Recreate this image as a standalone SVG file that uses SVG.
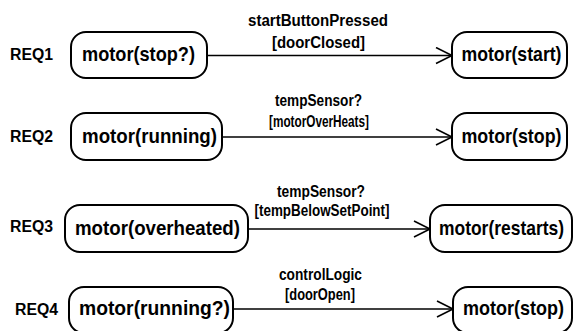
<svg xmlns="http://www.w3.org/2000/svg" width="574" height="331" viewBox="0 0 574 331">
  <style>
    .state rect { fill: #ffffff; stroke: #000000; stroke-width: 2; }
    .state text { font-family: "Liberation Sans", Arial, sans-serif; font-weight: bold; font-size: 21px; text-anchor: middle; fill: #000; }
    .req { font-family: "Liberation Sans", Arial, sans-serif; font-weight: bold; font-size: 16px; fill: #000; }
    .lbl { font-family: "Liberation Sans", Arial, sans-serif; font-weight: bold; font-size: 16px; text-anchor: middle; fill: #000; }
    .edge { fill: none; stroke: #000; stroke-width: 1.6; }
  </style>
  <defs>
    <marker id="open" markerWidth="20" markerHeight="20" refX="17" refY="9" orient="auto" markerUnits="userSpaceOnUse">
      <path d="M1,1 L17,9 L1,17" fill="none" stroke="#000" stroke-width="1.6"/>
    </marker>
  </defs>

  <rect width="574" height="331" fill="#ffffff"/>

  <!-- requirement tags -->
  <text class="req" x="10" y="60" textLength="43" lengthAdjust="spacingAndGlyphs">REQ1</text>
  <text class="req" x="10" y="142" textLength="43" lengthAdjust="spacingAndGlyphs">REQ2</text>
  <text class="req" x="10" y="232" textLength="43" lengthAdjust="spacingAndGlyphs">REQ3</text>
  <text class="req" x="15" y="315" textLength="43" lengthAdjust="spacingAndGlyphs">REQ4</text>

  <!-- transitions -->
  <g id="connectors">
    <line class="edge" x1="207" y1="55.5" x2="452" y2="55.5" marker-end="url(#open)"/>
    <line class="edge" x1="222" y1="137" x2="452" y2="137" marker-end="url(#open)"/>
    <line class="edge" x1="248" y1="229" x2="430" y2="229" marker-end="url(#open)"/>
    <line class="edge" x1="233" y1="309" x2="453" y2="309" marker-end="url(#open)"/>
    <text class="lbl" x="318" y="26" textLength="140" lengthAdjust="spacingAndGlyphs">startButtonPressed</text>
    <text class="lbl" x="318.5" y="48" textLength="93" lengthAdjust="spacingAndGlyphs">[doorClosed]</text>
    <text class="lbl" x="318.5" y="106" textLength="87" lengthAdjust="spacingAndGlyphs">tempSensor?</text>
    <text class="lbl" x="319" y="127" textLength="100" lengthAdjust="spacingAndGlyphs">[motorOverHeats]</text>
    <text class="lbl" x="321" y="197" textLength="88" lengthAdjust="spacingAndGlyphs">tempSensor?</text>
    <text class="lbl" x="322" y="216" textLength="135" lengthAdjust="spacingAndGlyphs">[tempBelowSetPoint]</text>
    <text class="lbl" x="320.5" y="280" textLength="83" lengthAdjust="spacingAndGlyphs">controlLogic</text>
    <text class="lbl" x="320" y="300" textLength="70" lengthAdjust="spacingAndGlyphs">[doorOpen]</text>
  </g>

  <!-- states -->
  <g id="req1-from" class="state">
    <rect x="71" y="32" width="136" height="46" rx="15"/>
    <text x="138.5" y="61" textLength="113" lengthAdjust="spacingAndGlyphs">motor(stop?)</text>
  </g>
  <g id="req1-to" class="state">
    <rect x="452" y="32" width="115" height="46" rx="15"/>
    <text x="511.5" y="61" textLength="100" lengthAdjust="spacingAndGlyphs">motor(start)</text>
  </g>
  <g id="req2-from" class="state">
    <rect x="71" y="113" width="151" height="47" rx="15"/>
    <text x="149.5" y="143" textLength="135" lengthAdjust="spacingAndGlyphs">motor(running)</text>
  </g>
  <g id="req2-to" class="state">
    <rect x="452" y="113" width="115" height="47" rx="15"/>
    <text x="511.5" y="143" textLength="100" lengthAdjust="spacingAndGlyphs">motor(stop)</text>
  </g>
  <g id="req3-from" class="state">
    <rect x="65" y="205" width="183" height="47" rx="15"/>
    <text x="157.5" y="235" textLength="165" lengthAdjust="spacingAndGlyphs">motor(overheated)</text>
  </g>
  <g id="req3-to" class="state">
    <rect x="430" y="205" width="142" height="47" rx="15"/>
    <text x="501.5" y="235" textLength="125" lengthAdjust="spacingAndGlyphs">motor(restarts)</text>
  </g>
  <g id="req4-from" class="state">
    <rect x="69" y="287" width="164" height="46" rx="15"/>
    <text x="154.5" y="315" textLength="151" lengthAdjust="spacingAndGlyphs">motor(running?)</text>
  </g>
  <g id="req4-to" class="state">
    <rect x="453" y="287" width="119" height="46" rx="15"/>
    <text x="513.5" y="315" textLength="101" lengthAdjust="spacingAndGlyphs">motor(stop)</text>
  </g>
</svg>
